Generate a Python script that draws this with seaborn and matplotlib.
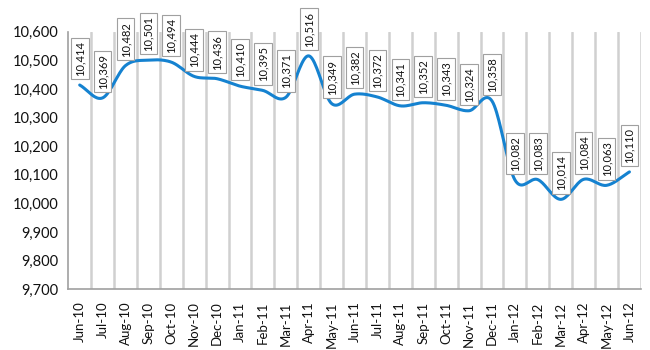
import numpy as np
import pandas as pd
import matplotlib
matplotlib.use("Agg")
import matplotlib.pyplot as plt
import seaborn as sns

months = ["Jun-10", "Jul-10", "Aug-10", "Sep-10", "Oct-10", "Nov-10", "Dec-10",
          "Jan-11", "Feb-11", "Mar-11", "Apr-11", "May-11", "Jun-11", "Jul-11",
          "Aug-11", "Sep-11", "Oct-11", "Nov-11", "Dec-11", "Jan-12", "Feb-12",
          "Mar-12", "Apr-12", "May-12", "Jun-12"]
values = [10414, 10369, 10482, 10501, 10494, 10444, 10436, 10410, 10395, 10371,
          10516, 10349, 10382, 10372, 10341, 10352, 10343, 10324, 10358, 10082,
          10083, 10014, 10084, 10063, 10110]
yticks = [9700, 9800, 9900, 10000, 10100, 10200, 10300, 10400, 10500, 10600]

sns.set_style("white")
plt.rcParams["font.family"] = ["Lato", "DejaVu Sans"]

fig = plt.figure(figsize=(6.5, 3.5), dpi=100)
ax = fig.add_axes([0.105, 0.174, 0.881, 0.735])

x = np.arange(len(values), dtype=float)
y = np.array(values, dtype=float)

# Catmull-Rom smoothing of the line (display only)
def catmull(xp, yp, n=20):
    P = np.column_stack([xp, yp])
    P = np.vstack([P[0] * 2 - P[1], P, P[-1] * 2 - P[-2]])
    out = []
    for i in range(1, len(P) - 2):
        p0, p1, p2, p3 = P[i - 1], P[i], P[i + 1], P[i + 2]
        t = np.linspace(0, 1, n, endpoint=False)[:, None]
        seg = 0.5 * ((2 * p1) + (-p0 + p2) * t + (2 * p0 - 5 * p1 + 4 * p2 - p3) * t ** 2
                     + (-p0 + 3 * p1 - 3 * p2 + p3) * t ** 3)
        out.append(seg)
    out.append(P[-2][None, :])
    return np.vstack(out)

sm = catmull(x, y)
df = pd.DataFrame({"x": sm[:, 0], "y": sm[:, 1]})
sns.lineplot(data=df, x="x", y="y", ax=ax, color="#1582d0", linewidth=2.2,
             sort=False, estimator=None)

for xi, yi in zip(x, values):
    ax.annotate(f"{yi:,}", (xi, yi), xytext=(0, 6.5), textcoords="offset points",
                rotation=90, ha="center", va="bottom", fontsize=8, color="#111111",
                bbox=dict(boxstyle="square,pad=0.3", fc="white", ec="#a0a0a0", lw=0.8))

ax.set_xlim(-0.5, len(values) - 0.5)
ax.set_ylim(9700, 10600)
ax.set_yticks(yticks)
ax.set_yticklabels([f"{v:,}" for v in yticks], fontsize=10.5, color="#111111")
ax.set_xticks(x)
ax.set_xticklabels(months, rotation=90, fontsize=9.5, color="#111111")
ax.set_xticks(np.arange(-0.5, len(values) + 0.5, 1), minor=True)
ax.tick_params(axis="x", which="major", length=0, pad=9)
ax.tick_params(axis="x", which="minor", length=4, color="#a0a0a0", width=1)
ax.tick_params(axis="y", length=4, color="#a0a0a0", width=1, pad=3)
ax.grid(False)
for xb in np.arange(0.5, len(values) - 0.5, 1):
    ax.axvline(xb, color="#d0d0d0", lw=1.8, zorder=0)
ax.axvline(len(values) - 0.5, color="#d0d0d0", lw=1.8, zorder=0)
ax.set_xlabel("")
ax.set_ylabel("")
for s in ["top", "right"]:
    ax.spines[s].set_visible(False)
for s in ["left", "bottom"]:
    ax.spines[s].set_color("#a0a0a0")
    ax.spines[s].set_linewidth(1.2)

fig.savefig("out.png", dpi=100)
